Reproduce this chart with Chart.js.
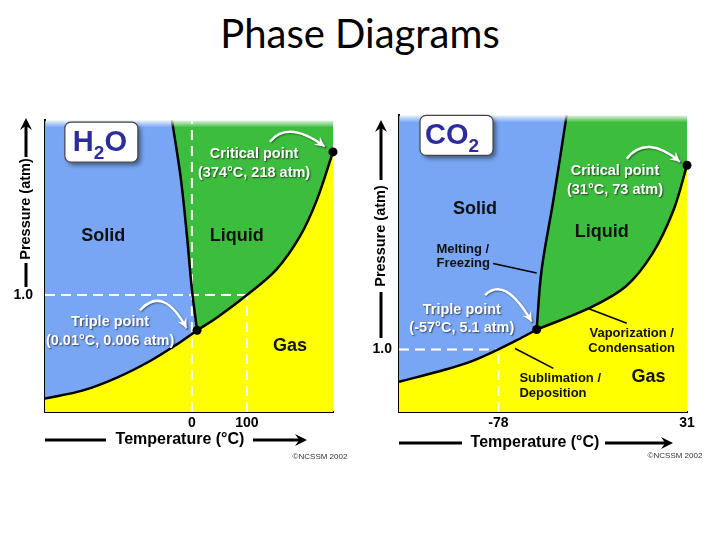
<!DOCTYPE html>
<html>
<head>
<meta charset="utf-8">
<title>Phase Diagrams</title>
<script src="https://cdn.jsdelivr.net/npm/chart.js@4.4.1/dist/chart.umd.min.js"></script>
<style>
    body { margin: 0; width: 720px; height: 540px; background: #fff; position: relative; overflow: hidden; }
    #title { position: absolute; left: 0; top: 9px; width: 720px; text-align: center; font-family: Lato, 'Open Sans', sans-serif; font-size: 40px; line-height: 48px; color: #000; }
    .panel { position: absolute; top: 100px; width: 360px; height: 370px; }
</style>
</head>
<body>
<div id="title">Phase Diagrams</div>
<div class="panel" style="left:0"><canvas id="h2o_chart"></canvas></div>
<div class="panel" style="left:360px"><canvas id="co2_chart"></canvas></div>
<script>
// Схема не в масштабе: обе оси в условных единицах 0..100

/* --------------------- H2O --------------------- */
var h2o_sublimation = [[0, 4.6], [13.2, 7.4], [25, 11.8], [36.5, 17.5], [45.8, 23.2], [52.8, 28]];
var h2o_fusion = [[52.8, 28], [51, 42.1], [49.3, 60.3], [47.2, 79.8], [44.1, 100]];
var h2o_vaporization = [[52.8, 28], [60, 32.6], [70.1, 40.1], [80.4, 48.9], [88.5, 60.2], [94.3, 72.5], [100, 89.2]];
var h2o_points = [[52.8, 28], [100, 89.2]];
var h2o_temp_ticks = [51, 70.1];
var h2o_temp_labels = ['0', '100'];
var h2o_pres_ticks = [40.1];
var h2o_pres_labels = ['1.0'];
var h2o_guides = [[[51, 0], [51, 100]], [[0, 40.1], [70.1, 40.1]], [[70.1, 0], [70.1, 40.1]]];

var h2o_labels = [
    {text: 'Solid', x: 20.2, y: 60.4, kind: 'phase'},
    {text: 'Liquid', x: 66.6, y: 60.4, kind: 'phase'},
    {text: 'Gas', x: 85.1, y: 22.6, kind: 'phase'},
    {text: 'Critical point', x: 72.6, y: 88.5, kind: 'note'},
    {text: '(374°C, 218 atm)', x: 72.6, y: 82.1, kind: 'note'},
    {text: 'Triple point', x: 22.6, y: 30.7, kind: 'note'},
    {text: '(0.01°C, 0.006 atm)', x: 22.6, y: 24.5, kind: 'note'}
];
var h2o_arrows = [[[78.1, 92.7], [84.5, 100.3], [97.2, 91.0]], [[33, 34.9], [41.1, 43.6], [49.2, 28.7]]];

/* --------------------- CO2 --------------------- */
var co2_sublimation = [[0, 10.2], [15.3, 14.1], [24.7, 16.9], [34.5, 21.1], [40.9, 24.2], [47.8, 27.8]];
var co2_fusion = [[47.8, 27.8], [49.5, 47.8], [53.6, 71.4], [58.2, 100]];
var co2_vaporization = [[47.8, 27.8], [66, 35], [78.7, 42.3], [88, 53.4], [95.3, 68], [100, 83.2]];
var co2_points = [[47.8, 27.8], [100, 83.2]];
var co2_temp_ticks = [34.5, 100];
var co2_temp_labels = ['-78', '31'];
var co2_pres_ticks = [21.1];
var co2_pres_labels = ['1.0'];
var co2_guides = [[[0, 21.1], [34.5, 21.1]], [[34.5, 0], [34.5, 21.1]]];
var co2_leaders = [[[32.7, 50.1], [47.8, 46.9]], [[65.7, 34.9], [79.1, 29.9]], [[40.3, 21.4], [53.6, 14.7]]];

var co2_labels = [
    {text: 'Solid', x: 26.4, y: 68.6, kind: 'phase'},
    {text: 'Liquid', x: 70.4, y: 60.7, kind: 'phase'},
    {text: 'Gas', x: 86.6, y: 11.9, kind: 'phase'},
    {text: 'Melting /', x: 13, y: 54.9, kind: 'small', align: 'left'},
    {text: 'Freezing', x: 13, y: 50.1, kind: 'small', align: 'left'},
    {text: 'Critical point', x: 75, y: 81.1, kind: 'note'},
    {text: '(31°C, 73 atm)', x: 75, y: 74.7, kind: 'note'},
    {text: 'Triple point', x: 21.8, y: 34.3, kind: 'note'},
    {text: '(-57°C, 5.1 atm)', x: 21.8, y: 28.2, kind: 'note'},
    {text: 'Vaporization /', x: 80.8, y: 26.5, kind: 'small'},
    {text: 'Condensation', x: 80.8, y: 21.4, kind: 'small'},
    {text: 'Sublimation /', x: 41.8, y: 11.3, kind: 'small', align: 'left'},
    {text: 'Deposition', x: 41.8, y: 6.3, kind: 'small', align: 'left'}
];
var co2_arrows = [[[79.1, 85.4], [86, 93.8], [97.6, 84.3]], [[29.9, 39.4], [36.8, 46.1], [46.1, 30.4]]];

var solid_color = '#78a6f4';
var liquid_color = '#3dbd3d';
var gas_color = '#ffff00';
var font_family = "'Liberation Sans', Arial, sans-serif";

function pts(a) {
    return a.map(function (p) { return {x: p[0], y: p[1]}; });
}

function arrow_head(ctx, x0, y0, x1, y1, len, half) {
    var ang = Math.atan2(y1 - y0, x1 - x0);
    ctx.save();
    ctx.translate(x1, y1);
    ctx.rotate(ang);
    ctx.beginPath();
    ctx.moveTo(0, 0);
    ctx.lineTo(-len, -half);
    ctx.lineTo(-len * 0.65, 0);
    ctx.lineTo(-len, half);
    ctx.closePath();
    ctx.fill();
    ctx.restore();
}

/* --------------------- Подписи, стрелки, рамка с формулой --------------------- */
var decor_plugin = {
    id: 'decor',
    afterDatasetsDraw: function (chart) {
        var d = chart.options.plugins.decor;
        var ctx = chart.ctx;
        var sx = chart.scales.x, sy = chart.scales.y;
        var area = chart.chartArea;
        function px(p) { return [sx.getPixelForValue(p[0]), sy.getPixelForValue(p[1])]; }

        // размытый верхний край
        ctx.save();
        var g = ctx.createLinearGradient(0, area.top, 0, area.top + 7);
        g.addColorStop(0, 'rgba(255,255,255,0.85)');
        g.addColorStop(1, 'rgba(255,255,255,0)');
        ctx.fillStyle = g;
        ctx.fillRect(area.left + 1, area.top, area.right - area.left, 7);
        ctx.restore();

        // изогнутые белые стрелки
        d.arrows.forEach(function (a) {
            var p0 = px(a[0]), p1 = px(a[1]), p2 = px(a[2]);
            ctx.save();
            ctx.shadowColor = 'rgba(0,0,0,0.45)';
            ctx.shadowBlur = 1.5;
            ctx.shadowOffsetX = 1;
            ctx.shadowOffsetY = 1;
            ctx.strokeStyle = '#fff';
            ctx.fillStyle = '#fff';
            ctx.lineWidth = 2.5;
            ctx.beginPath();
            ctx.moveTo(p0[0], p0[1]);
            ctx.quadraticCurveTo(p1[0], p1[1], p2[0], p2[1]);
            ctx.stroke();
            arrow_head(ctx, p1[0], p1[1], p2[0], p2[1], 10, 5);
            ctx.restore();
        });

        // подписи
        d.labels.forEach(function (l) {
            var p = px([l.x, l.y]);
            ctx.save();
            ctx.textAlign = l.align || 'center';
            ctx.textBaseline = 'middle';
            if (l.kind == 'phase') {
                ctx.font = 'bold 18px ' + font_family;
                ctx.fillStyle = '#111';
            } else if (l.kind == 'small') {
                ctx.font = 'bold 13px ' + font_family;
                ctx.fillStyle = '#111';
            } else {
                ctx.font = 'bold 14.5px ' + font_family;
                ctx.fillStyle = '#fff';
                ctx.shadowColor = 'rgba(0,0,0,0.6)';
                ctx.shadowBlur = 1.5;
                ctx.shadowOffsetX = 1;
                ctx.shadowOffsetY = 1;
            }
            ctx.fillText(l.text, p[0], p[1]);
            ctx.restore();
        });

        // рамка с формулой
        var b = px(d.box.at);
        ctx.save();
        ctx.shadowColor = 'rgba(0,0,0,0.45)';
        ctx.shadowBlur = 4;
        ctx.shadowOffsetX = 3;
        ctx.shadowOffsetY = 3;
        ctx.fillStyle = '#fff';
        ctx.beginPath();
        ctx.roundRect(b[0], b[1], 73, 40, 6);
        ctx.fill();
        ctx.restore();
        ctx.save();
        ctx.strokeStyle = '#444';
        ctx.lineWidth = 1.2;
        ctx.beginPath();
        ctx.roundRect(b[0], b[1], 73, 40, 6);
        ctx.stroke();
        ctx.fillStyle = '#2c2c9c';
        ctx.textBaseline = 'alphabetic';
        ctx.font = 'bold 29px ' + font_family;
        var tx = b[0] + d.box.pad;
        ctx.fillText(d.box.main, tx, b[1] + 29);
        tx += ctx.measureText(d.box.main).width;
        ctx.font = 'bold 19px ' + font_family;
        ctx.fillText(d.box.sub, tx, b[1] + 37);
        tx += ctx.measureText(d.box.sub).width;
        ctx.font = 'bold 29px ' + font_family;
        ctx.fillText(d.box.tail, tx, b[1] + 29);
        ctx.restore();
    },
    afterDraw: function (chart) {
        var d = chart.options.plugins.decor;
        var ctx = chart.ctx;
        ctx.save();
        ctx.fillStyle = '#000';
        ctx.strokeStyle = '#000';
        ctx.lineWidth = 3;

        // ось температуры
        var t = d.xtitle;
        ctx.font = 'bold 16px ' + font_family;
        ctx.textAlign = 'center';
        ctx.textBaseline = 'middle';
        ctx.fillText('Temperature (°C)', t.x, t.y);
        ctx.beginPath();
        ctx.moveTo(t.left[0], t.y); ctx.lineTo(t.left[1], t.y);
        ctx.moveTo(t.right[0], t.y); ctx.lineTo(t.right[1] - 6, t.y);
        ctx.stroke();
        arrow_head(ctx, t.right[0], t.y, t.right[1], t.y, 12, 6);

        // ось давления
        var p = d.ytitle;
        ctx.save();
        ctx.translate(p.x, p.y);
        ctx.rotate(-Math.PI / 2);
        ctx.font = 'bold 14.5px ' + font_family;
        ctx.fillText('Pressure (atm)', 0, 0);
        ctx.restore();
        ctx.beginPath();
        ctx.moveTo(p.x, p.low[0]); ctx.lineTo(p.x, p.low[1]);
        ctx.moveTo(p.x, p.high[0]); ctx.lineTo(p.x, p.high[1] + 6);
        ctx.stroke();
        arrow_head(ctx, p.x, p.high[0], p.x, p.high[1], 12, 6);

        // копирайт
        ctx.font = '8px ' + font_family;
        ctx.fillStyle = '#333';
        ctx.fillText('©NCSSM 2002', d.copy[0], d.copy[1]);
        ctx.restore();
    }
};

/* --------------------- Построение диаграммы --------------------- */
function build_chart(canvas_id, d) {
    // область твёрдой фазы: верхняя граница и нижняя, обе по возрастанию x
    var top = d.fusion[d.fusion.length - 1];
    var upper = [[0, 100], [top[0], 100]];
    var lower;
    if (top[0] < d.fusion[0][0]) {
        upper = upper.concat(d.fusion.slice().reverse());
        lower = d.sublimation;
    } else {
        lower = d.sublimation.concat(d.fusion);
    }
    var boundary = d.sublimation.concat(d.vaporization);

    var datasets = [
        {data: pts(boundary), fill: 'start', backgroundColor: gas_color, borderColor: 'transparent', borderWidth: 0, order: 10},
        {data: pts(boundary), fill: 'end', backgroundColor: liquid_color, borderColor: 'transparent', borderWidth: 0, order: 9},
        {data: pts(lower), fill: false, borderColor: 'transparent', borderWidth: 0, order: 8},
        {data: pts(upper), fill: {target: 2}, backgroundColor: solid_color, borderColor: 'transparent', borderWidth: 0, order: 7}
    ];
    d.guides.forEach(function (g) {
        datasets.push({data: pts(g), borderColor: '#fff', borderWidth: 2, borderDash: [10, 6], tension: 0, fill: false, order: 5});
    });
    [d.sublimation, d.fusion, d.vaporization].forEach(function (c) {
        datasets.push({data: pts(c), borderColor: '#000', borderWidth: 2.5, fill: false, order: 2});
    });
    (d.leaders || []).forEach(function (l) {
        datasets.push({data: pts(l), borderColor: '#000', borderWidth: 1.5, tension: 0, fill: false, order: 2});
    });
    datasets.push({data: pts(d.points), showLine: false, pointRadius: 4.5, pointBackgroundColor: '#000', pointBorderWidth: 0, clip: false, order: 1});

    var tick_font = {family: font_family, weight: 'bold', size: 14};

    return new Chart(document.getElementById(canvas_id).getContext('2d'), {
        type: 'line',
        data: {datasets: datasets},
        plugins: [decor_plugin],
        options: {
            responsive: true,
            maintainAspectRatio: false,
            animation: false,
            events: [],
            layout: {padding: {top: 15, right: d.right_pad, left: 0, bottom: 0}},
            elements: {
                line: {tension: 0.35},
                point: {radius: 0, hoverRadius: 0}
            },
            plugins: {
                legend: {display: false},
                tooltip: {enabled: false},
                decor: d.decor
            },
            scales: {
                x: {
                    type: 'linear', min: 0, max: 100, z: 1,
                    grid: {display: false, drawTicks: false},
                    border: {display: true, color: '#000', width: 2},
                    afterBuildTicks: function (s) { s.ticks = d.temp_ticks.map(function (v) { return {value: v}; }); },
                    afterFit: function (s) { s.height = 58; },
                    ticks: {
                        autoSkip: false, maxRotation: 0, padding: 3, color: '#000', font: tick_font,
                        callback: function (v, i) { return d.temp_labels[i]; }
                    }
                },
                y: {
                    type: 'linear', min: 0, max: 100, z: 1,
                    grid: {display: false, drawTicks: false},
                    border: {display: true, color: '#000', width: 2},
                    afterBuildTicks: function (s) { s.ticks = d.pres_ticks.map(function (v) { return {value: v}; }); },
                    afterFit: function (s) { s.width = d.left_width; },
                    ticks: {
                        autoSkip: false, padding: d.y_pad, color: '#000', font: tick_font,
                        callback: function (v, i) { return d.pres_labels[i]; }
                    }
                }
            }
        }
    });
}

build_chart('h2o_chart', {
    sublimation: h2o_sublimation, fusion: h2o_fusion, vaporization: h2o_vaporization,
    points: h2o_points, guides: h2o_guides,
    temp_ticks: h2o_temp_ticks, temp_labels: h2o_temp_labels,
    pres_ticks: h2o_pres_ticks, pres_labels: h2o_pres_labels,
    left_width: 45, right_pad: 27, y_pad: 12,
    decor: {
        labels: h2o_labels, arrows: h2o_arrows,
        box: {at: [6.9, 99.4], main: 'H', sub: '2', tail: 'O', pad: 8},
        xtitle: {x: 180, y: 340, left: [45, 106], right: [253, 307]},
        ytitle: {x: 26, y: 109, low: [187, 163], high: [57, 18]},
        copy: [320, 357]
    }
});

build_chart('co2_chart', {
    sublimation: co2_sublimation, fusion: co2_fusion, vaporization: co2_vaporization,
    points: co2_points, guides: co2_guides, leaders: co2_leaders,
    temp_ticks: co2_temp_ticks, temp_labels: co2_temp_labels,
    pres_ticks: co2_pres_ticks, pres_labels: co2_pres_labels,
    left_width: 39, right_pad: 33, y_pad: 7,
    decor: {
        labels: co2_labels, arrows: co2_arrows,
        box: {at: [7.3, 100], main: 'CO', sub: '2', tail: '', pad: 5},
        xtitle: {x: 175, y: 343, left: [39, 102], right: [245, 313]},
        ytitle: {x: 21, y: 136, low: [238, 192], high: [80, 20]},
        copy: [315, 356]
    }
});
</script>
</body>
</html>
